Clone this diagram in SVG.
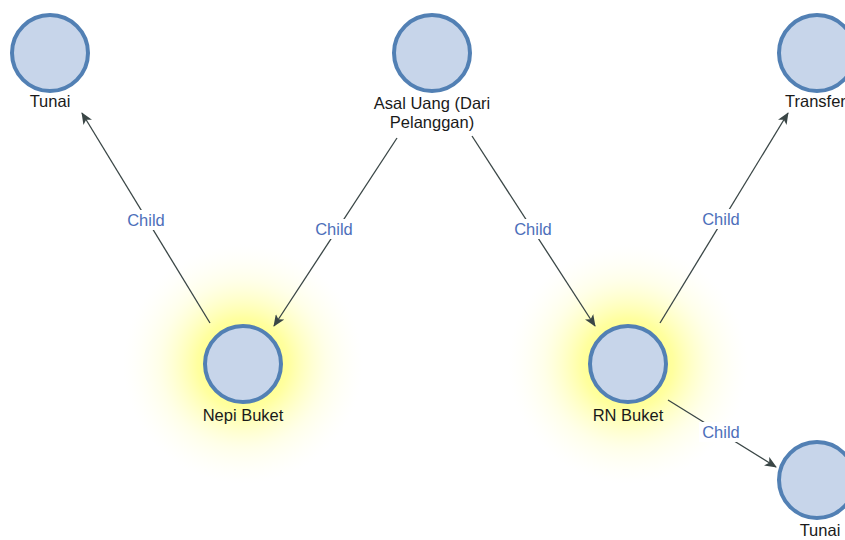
<svg xmlns="http://www.w3.org/2000/svg" width="845" height="540" viewBox="0 0 845 540">
<defs>
<radialGradient id="glow">
<stop offset="0" stop-color="#ffff50" stop-opacity="1"/>
<stop offset="0.38" stop-color="#ffff80" stop-opacity="0.75"/>
<stop offset="0.7" stop-color="#ffffc0" stop-opacity="0.35"/>
<stop offset="1" stop-color="#ffffe8" stop-opacity="0"/>
</radialGradient>
<marker id="arr" viewBox="0 0 12 10" refX="11" refY="5" markerWidth="12" markerHeight="10" markerUnits="userSpaceOnUse" orient="auto">
<path d="M0,0 L12,5 L0,10 L3,5 Z" fill="#3a4646"/>
</marker>
</defs>
<style>
.node circle{fill:#c7d5ea;stroke:#5280b4;stroke-width:4}
.lbl{font-family:"Liberation Sans",Arial,sans-serif;font-size:16.5px;fill:#1a1a1a;text-anchor:middle}
.edge{stroke:#3a4646;stroke-width:1.3;fill:none;marker-end:url(#arr)}
.el{font-family:"Liberation Sans",Arial,sans-serif;font-size:16.5px;fill:#4d6fba;text-anchor:middle}
.bg{fill:#ffffff}
</style>
<rect width="845" height="540" fill="#ffffff"/>
<circle cx="243" cy="364" r="120" fill="url(#glow)"/>
<circle cx="628" cy="364" r="120" fill="url(#glow)"/>
<g id="connectors">
<line class="edge" x1="210" y1="323" x2="82" y2="113"/>
<line class="edge" x1="397" y1="138" x2="274" y2="326"/>
<line class="edge" x1="472" y1="136" x2="595" y2="326"/>
<line class="edge" x1="660" y1="323" x2="788" y2="113"/>
<line class="edge" x1="668" y1="400" x2="776" y2="467"/>
<rect class="bg" x="124" y="210" width="44" height="20"/>
<text class="el" x="146" y="226">Child</text>
<rect class="bg" x="312" y="219" width="44" height="20"/>
<text class="el" x="334" y="235">Child</text>
<rect class="bg" x="511" y="219" width="44" height="20"/>
<text class="el" x="533" y="235">Child</text>
<rect class="bg" x="699" y="209" width="44" height="20"/>
<text class="el" x="721" y="225">Child</text>
<rect class="bg" x="699" y="422" width="44" height="20"/>
<text class="el" x="721" y="438">Child</text>
</g>
<g id="n-tunai1" class="node"><circle cx="50" cy="53" r="38"/><text class="lbl" x="50" y="107">Tunai</text></g>
<g id="n-asal" class="node"><circle cx="432" cy="53" r="38"/><text class="lbl" x="432" y="109">Asal Uang (Dari</text><text class="lbl" x="432" y="128">Pelanggan)</text></g>
<g id="n-transfer" class="node"><circle cx="817" cy="53" r="38"/><text class="lbl" x="785" y="107" style="text-anchor:start">Transfer</text></g>
<g id="n-nepi" class="node"><circle cx="243" cy="364" r="38"/><text class="lbl" x="243" y="421">Nepi Buket</text></g>
<g id="n-rn" class="node"><circle cx="628" cy="364" r="38"/><text class="lbl" x="628" y="421">RN Buket</text></g>
<g id="n-tunai2" class="node"><circle cx="817" cy="480" r="38"/><text class="lbl" x="820" y="536">Tunai</text></g>
</svg>
